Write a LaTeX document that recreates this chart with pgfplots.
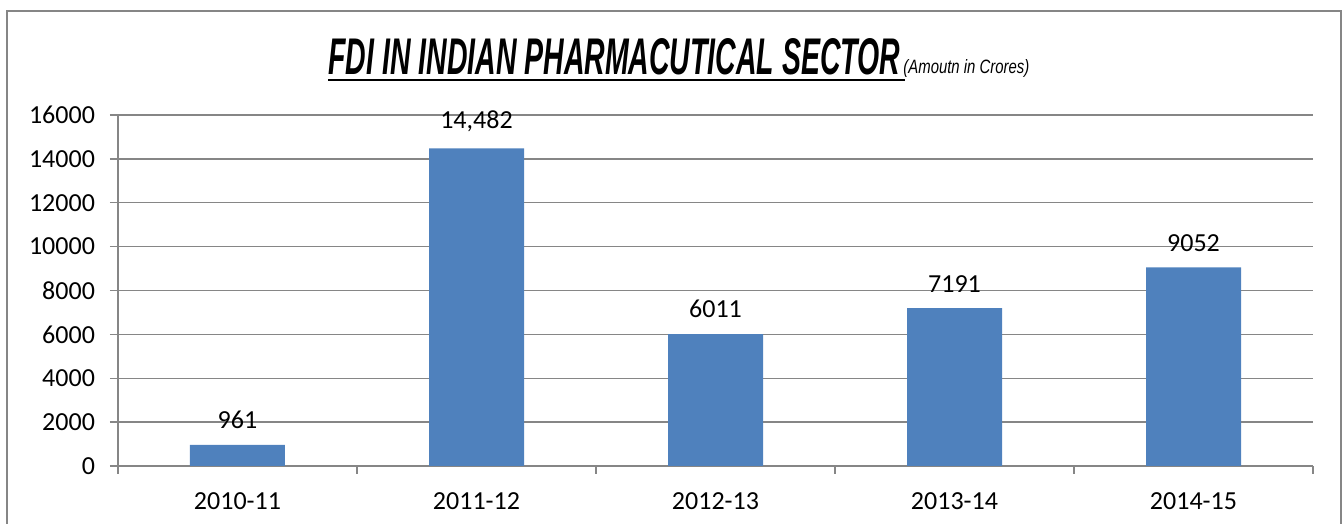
\documentclass[border=0pt]{standalone}
\usepackage{pgfplots}
\pgfplotsset{compat=1.18}
\usepackage{pgfplotstable}
\usepackage{graphicx}
\usepackage{fontspec}
\setmainfont{Carlito}
\newfontfamily\titlefont{Liberation Sans}
\definecolor{barblue}{HTML}{4F81BD}
\definecolor{gridgray}{HTML}{868686}
\pgfplotstableread{
x y label
0 961 961
1 14482 14,482
2 6011 6011
3 7191 7191
4 9052 9052
}\fdidata
\begin{document}
\begin{tikzpicture}
\useasboundingbox (0,0) rectangle (672pt,262pt);
\draw[gridgray, line width=0.6pt] (3.5pt,0) -- (3.5pt,256.5pt) -- (670.5pt,256.5pt) -- (670.5pt,0);
\begin{axis}[
  at={(59pt,29pt)}, anchor=south west,
  scale only axis, width=597.5pt, height=175.5pt,
  xmin=-0.5, xmax=4.5, ymin=0, ymax=16000,
  scaled y ticks=false,
  axis lines*=left,
  axis line style={gridgray, line width=0.7pt},
  ytick={0,2000,...,16000},
  yticklabels={0,2000,4000,6000,8000,10000,12000,14000,16000},
  ymajorgrids,
  major grid style={gridgray, line width=0.7pt},
  tick align=outside,
  tick style={gridgray, line width=0.7pt},
  major tick length=4pt,
  xtick={-0.5,0.5,...,4.5},
  xticklabels={},
  extra x ticks={0,1,2,3,4},
  extra x tick labels={2010-11,2011-12,2012-13,2013-14,2014-15},
  extra x tick style={major tick length=0pt, grid=none},
  ticklabel style={font=\fontsize{13}{15}\selectfont, text=black},
  yticklabel style={xshift=-4pt},
  xticklabel style={yshift=-10pt},
  clip=false,
]
\addplot[ybar, bar width=47.5pt, fill=barblue, draw=none,
  nodes near coords, point meta=explicit symbolic,
  every node near coord/.append style={font=\fontsize{13}{15}\selectfont, text=black, yshift=4.5pt}]
  table[x=x, y=y, meta=label] {\fdidata};
\end{axis}
\node[anchor=base west, inner sep=0pt] (T) at (164pt,224.5pt)
  {\resizebox{286pt}{18pt}{\titlefont\bfseries\itshape FDI IN INDIAN PHARMACUTICAL SECTOR}};
\node[anchor=base west, inner sep=0pt] at (451.5pt,225pt)
  {\resizebox{63pt}{7pt}{\titlefont\itshape (Amoutn in Crores)}};
\draw[black, line width=1.3pt] (164pt,222pt) -- (452.5pt,222pt);
\end{tikzpicture}
\end{document}
